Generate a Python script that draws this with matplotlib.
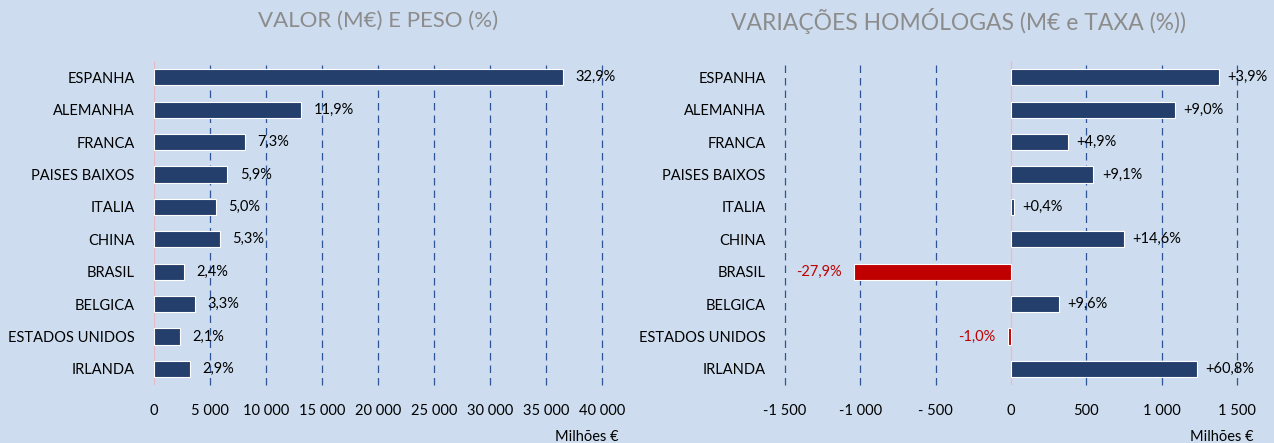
import matplotlib.pyplot as plt
from matplotlib.ticker import FuncFormatter

plt.rcParams['font.family'] = ['Lato', 'DejaVu Sans']

paises = ["ESPANHA", "ALEMANHA", "FRANCA", "PAISES BAIXOS", "ITALIA", "CHINA",
          "BRASIL", "BELGICA", "ESTADOS UNIDOS", "IRLANDA"]
valor = [36500, 13150, 8080, 6560, 5500, 5850, 2640, 3620, 2320, 3170]
peso = ["32,9%", "11,9%", "7,3%", "5,9%", "5,0%", "5,3%", "2,4%", "3,3%", "2,1%", "2,9%"]
variacao = [1380, 1090, 375, 547, 22, 748, -1040, 320, -23, 1235]
taxa = ["+3,9%", "+9,0%", "+4,9%", "+9,1%", "+0,4%", "+14,6%", "-27,9%", "+9,6%", "-1,0%", "+60,8%"]

bg = "#CDDDEF"
azul = "#243F6B"
vermelho = "#C00000"
grelha = "#2F5597"
cinza = "#8C8C8C"


def milhares(v, pos):
    s = f"{abs(v):,.0f}".replace(",", " ")
    if v < 0:
        return "-" + s if abs(v) >= 1000 else "- " + s
    return s


fig = plt.figure(figsize=(12.74, 4.43), dpi=100, facecolor=bg)
ax1 = fig.add_axes([0.1209, 0.1309, 0.3516, 0.7314], facecolor=bg)
ax2 = fig.add_axes([0.6162, 0.1309, 0.3548, 0.7314], facecolor=bg)

y = list(range(len(paises)))

# grafico da esquerda
ax1.barh(y, valor, height=0.5, color=azul, edgecolor="white", linewidth=0.8, zorder=3)
for i, (v, p) in enumerate(zip(valor, peso)):
    ax1.annotate(p, (v, i), xytext=(9, 0), textcoords="offset points",
                 va="center", ha="left", fontsize=10.5, color="black", zorder=4)
ax1.set_xlim(0, 40000)
ax1.set_xticks(range(0, 40001, 5000))

# grafico da direita
cores = [azul if v >= 0 else vermelho for v in variacao]
ax2.barh(y, variacao, height=0.5, color=cores, edgecolor="white", linewidth=0.8, zorder=3)
for i, (v, t) in enumerate(zip(variacao, taxa)):
    if v >= 0:
        ax2.annotate(t, (v, i), xytext=(6, 0), textcoords="offset points",
                     va="center", ha="left", fontsize=10.5, color="black", zorder=4)
    else:
        ax2.annotate(t, (v, i), xytext=(-9, 0), textcoords="offset points",
                     va="center", ha="right", fontsize=10.5, color=vermelho, zorder=4)
ax2.set_xlim(-1500, 1500)
ax2.set_xticks(range(-1500, 1501, 500))

for ax in (ax1, ax2):
    ax.set_ylim(len(paises) - 0.5, -0.5)
    ax.set_yticks(y)
    ax.set_yticklabels(paises, fontsize=10.5)
    ax.xaxis.set_major_formatter(FuncFormatter(milhares))
    ax.tick_params(axis="both", length=0, labelsize=10.5, colors="black")
    ax.tick_params(axis="y", pad=14)
    ax.tick_params(axis="x", pad=14)
    for s in ax.spines.values():
        s.set_visible(False)
    for t in ax.get_xticks():
        if t != 0:
            ax.axvline(t, color=grelha, linestyle=(0, (6, 4)), linewidth=0.9,
                       zorder=1, clip_on=False)
    ax.axvline(0, color="#E8BCC6", linewidth=1.0, zorder=2)
    ax.text(1.037, -0.14, "Milhões €", transform=ax.transAxes, ha="right", va="top",
            fontsize=10.5, color="black")

fig.text(0.297, 0.953, "VALOR (M€) E PESO (%)", ha="center", va="center",
         fontsize=16, color=cinza)
fig.text(0.752, 0.953, "VARIAÇÕES HOMÓLOGAS (M€ e TAXA (%))", ha="center", va="center",
         fontsize=16.5, color=cinza)

fig.savefig("out.png", dpi=100, facecolor=bg)
